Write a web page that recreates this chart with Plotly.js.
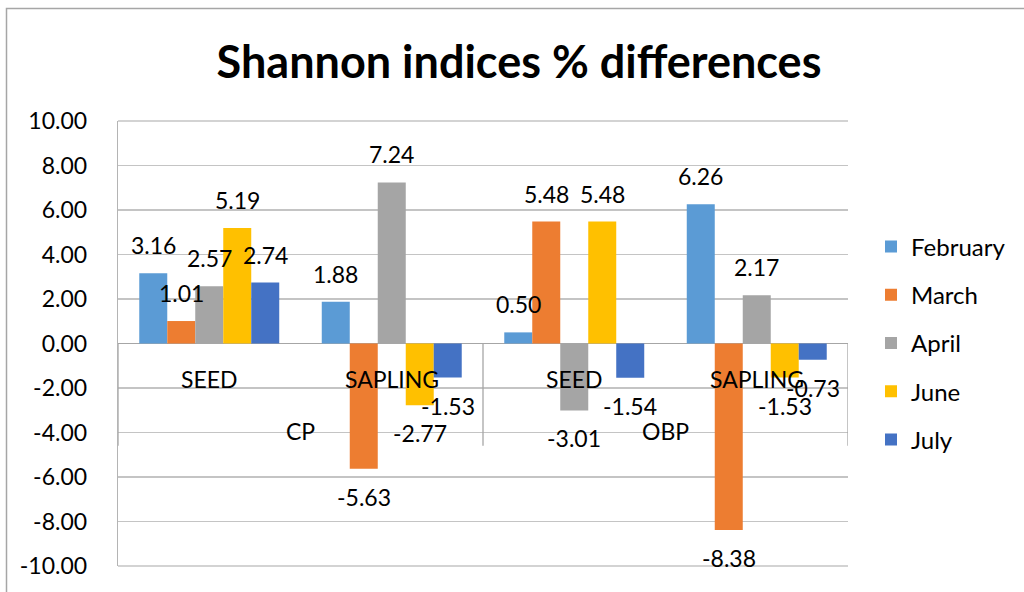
<!DOCTYPE html>
<html>
<head>
<meta charset="utf-8">
<script src="https://cdn.plot.ly/plotly-3.0.1.min.js"></script>
<style>
  html, body { margin: 0; padding: 0; background: #fff; overflow: hidden; }
  #chart { width: 1024px; height: 592px; }
</style>
</head>
<body>
<div id="chart"></div>
<script>
// ---- data ----
const categories = ["SEED", "SAPLING", "SEED", "SAPLING"];
const groups = ["CP", "CP", "OBP", "OBP"];
const seriesNames = ["February", "March", "April", "June", "July"];
const february = [3.16, 1.88, 0.50, 6.26];
const march = [1.01, -5.63, 5.48, -8.38];
const april = [2.57, 7.24, -3.01, 2.17];
const june = [5.19, -2.77, 5.48, -1.53];
const july = [2.74, -1.53, -1.54, -0.73];
const yTickVals = [-10, -8, -6, -4, -2, 0, 2, 4, 6, 8, 10];

// ---- styling ----
const colors = ["#5B9BD5", "#ED7D31", "#A5A5A5", "#FFC000", "#4472C4"];
const FONT = "Lato, 'Open Sans', sans-serif";
const FS = 23;
const margin = { l: 118, r: 176, t: 121, b: 26 };
const W = 1024, H = 592;
const plotW = W - margin.l - margin.r;
const plotH = H - margin.t - margin.b;
const bargap = 0.233;

const seriesValues = [february, march, april, june, july];
const xIdx = categories.map((_, i) => i);

const traces = seriesValues.map((vals, j) => ({
  type: "bar",
  name: seriesNames[j],
  x: xIdx,
  y: vals,
  marker: { color: colors[j], line: { width: 0 } },
  legendgroup: "g" + j,
  hoverinfo: "skip"
}));

const nCat = categories.length, nSer = seriesValues.length;
const barPx = plotW / nCat * (1 - bargap) / nSer;

const annotations = [];
seriesValues.forEach((vals, j) => {
  vals.forEach((v, i) => {
    annotations.push({
      x: i, y: v, xref: "x", yref: "y",
      text: v.toFixed(2),
      showarrow: false,
      xshift: (j - (nSer - 1) / 2) * barPx,
      yshift: v >= 0 ? 28 : -28,
      font: { family: FONT, size: FS, color: "#000" }
    });
  });
});
// category labels
categories.forEach((c, i) => {
  annotations.push({
    x: i, y: 0, xref: "x", yref: "y", text: c, showarrow: false,
    yshift: -35, font: { family: FONT, size: FS, color: "#000" }
  });
});
// group labels
const uniqueGroups = [...new Set(groups)];
uniqueGroups.forEach(g => {
  const idx = groups.map((gg, i) => gg === g ? i : null).filter(v => v !== null);
  const mid = (idx[0] + idx[idx.length - 1]) / 2;
  annotations.push({
    x: mid, y: 0, xref: "x", yref: "y", text: g, showarrow: false,
    yshift: -87, font: { family: FONT, size: FS, color: "#000" }
  });
});

// divider lines for category axis
const shapes = [];
const divY = -4.6;
[-0.5, 1.5, 3.5].forEach(xv => {
  shapes.push({
    type: "line", xref: "x", yref: "y", x0: xv, x1: xv, y0: 0, y1: divY,
    line: { color: "#A6A6A6", width: 1.3 }
  });
});
// boundary gridlines (top and bottom of the plot area)
[0, 1].forEach(yp => {
  shapes.push({
    type: "line", xref: "paper", yref: "paper", x0: 0, x1: 1, y0: yp, y1: yp,
    line: { color: "#C4C4C4", width: 1.3 }, layer: "below"
  });
});
// outer chart border (left & top visible)
shapes.push({
  type: "rect", xref: "paper", yref: "paper",
  x0: (6.5 - margin.l) / plotW, x1: 1.5,
  y0: -0.5, y1: (H - margin.b - 8.5) / plotH,
  line: { color: "#A6A6A6", width: 1.5 }, layer: "above"
});

const layout = {
  width: W, height: H,
  margin: margin,
  paper_bgcolor: "#fff",
  plot_bgcolor: "#fff",
  font: { family: FONT, size: FS, color: "#000" },
  title: {
    text: "<b>Shannon indices % differences</b>",
    font: { family: FONT, size: 45, color: "#000" },
    x: 519 / W, xref: "container", xanchor: "center",
    y: 1 - 62 / H, yref: "container", yanchor: "middle"
  },
  barmode: "group",
  bargap: bargap,
  bargroupgap: 0,
  xaxis: {
    type: "linear",
    range: [-0.5, nCat - 0.5],
    showticklabels: false,
    showgrid: false,
    zeroline: false,
    showline: false,
    ticks: "",
    fixedrange: true
  },
  yaxis: {
    range: [-10, 10],
    tickvals: yTickVals,
    ticktext: yTickVals.map(v => v.toFixed(2)),
    tickfont: { family: FONT, size: FS, color: "#000" },
    showgrid: true,
    gridcolor: "#C4C4C4",
    gridwidth: 1.3,
    zeroline: true,
    zerolinecolor: "#A6A6A6",
    zerolinewidth: 1.3,
    showline: true,
    linecolor: "#B4B4B4",
    linewidth: 1.3,
    ticks: "",
    ticklabelstandoff: 25,
    fixedrange: true
  },
  legend: {
    x: (871 - margin.l) / plotW, xanchor: "left",
    y: (H - margin.b - 343) / plotH, yanchor: "middle",
    font: { family: FONT, size: 24, color: "#000" },
    traceorder: "grouped",
    tracegroupgap: 14,
    bgcolor: "rgba(0,0,0,0)",
    borderwidth: 0
  },
  showlegend: true,
  annotations: annotations,
  shapes: shapes
};

Plotly.newPlot("chart", traces, layout, { displayModeBar: false, staticPlot: true });
</script>
</body>
</html>
